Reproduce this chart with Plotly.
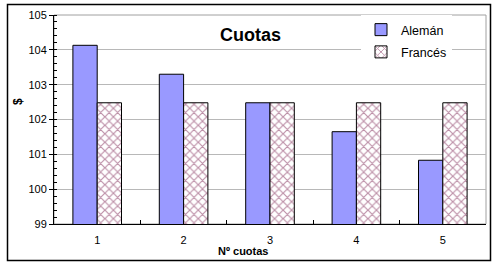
import plotly.graph_objects as go

categories = ["1", "2", "3", "4", "5"]
aleman = [104.13, 103.30, 102.48, 101.65, 100.83]
frances = [102.48, 102.48, 102.48, 102.48, 102.48]
y_ticks = [99, 100, 101, 102, 103, 104, 105]

W, H = 498, 269
L, R, T, B = 54, 12, 15, 45
pw, ph = W - L - R, H - T - B

def px(x):
    return (x - L) / pw

def py(y):
    return (H - B - y) / ph

fig = go.Figure()
fig.add_trace(go.Bar(
    x=categories, y=aleman, name="Alemán", legendgroup="a",
    marker=dict(color="#9999FF", line=dict(color="black", width=1)),
))
fig.add_trace(go.Bar(
    x=categories, y=frances, name="Francés", legendgroup="f",
    marker=dict(color="white", line=dict(color="black", width=1),
                pattern=dict(shape="x", fgcolor="#7a1f4f", bgcolor="white",
                             size=6, solidity=0.35)),
))

font = "Liberation Sans, Arial, sans-serif"
fig.update_layout(
    width=W, height=H,
    margin=dict(l=L, r=R, t=T, b=B, autoexpand=False),
    paper_bgcolor="white", plot_bgcolor="white",
    barmode="group", bargap=0.4375, bargroupgap=0,
    font=dict(family=font, size=11, color="black"),
    showlegend=True,
    legend=dict(x=px(361), y=py(15), xanchor="left", yanchor="top",
                bgcolor="white", font=dict(size=12.5), itemwidth=30,
                traceorder="grouped", tracegroupgap=3),
    xaxis=dict(type="category", showline=True, linecolor="black", linewidth=1,
               ticks="inside", tickson="boundaries", ticklen=4, tickcolor="black",
               showgrid=False, ticklabelstandoff=6, fixedrange=True),
    yaxis=dict(range=[99, 105], tickvals=y_ticks, showline=True, linecolor="black",
               linewidth=1, ticks="outside", ticklen=4, tickcolor="black",
               showgrid=True, gridcolor="#b8b8b8", gridwidth=1,
               zeroline=False,
               minor=dict(ticks="inside", dtick=0.2, ticklen=3, tickcolor="black",
                          showgrid=False),
               fixedrange=True),
    shapes=[
        dict(type="rect", xref="paper", yref="paper", x0=0, x1=1, y0=0, y1=1,
             line=dict(color="#a0a0a0", width=1), layer="below"),
        dict(type="rect", xref="paper", yref="paper",
             x0=px(7.5), x1=px(490.5), y0=py(260.5), y1=py(4.5),
             line=dict(color="black", width=1.5)),
    ],
    annotations=[
        dict(text="<b>Cuotas</b>", x=px(250), y=py(35), xref="paper", yref="paper",
             showarrow=False, font=dict(size=18, family=font),
             xanchor="center", yanchor="middle"),
        dict(text="<b>$</b>", x=px(18), y=py(102), xref="paper", yref="paper",
             showarrow=False, textangle=-90, font=dict(size=12, family=font),
             xanchor="center", yanchor="middle"),
        dict(text="<b>Nº cuotas</b>", x=px(243), y=py(251), xref="paper", yref="paper",
             showarrow=False, font=dict(size=11, family=font),
             xanchor="center", yanchor="middle"),
    ],
)

fig.write_html("out.html")
